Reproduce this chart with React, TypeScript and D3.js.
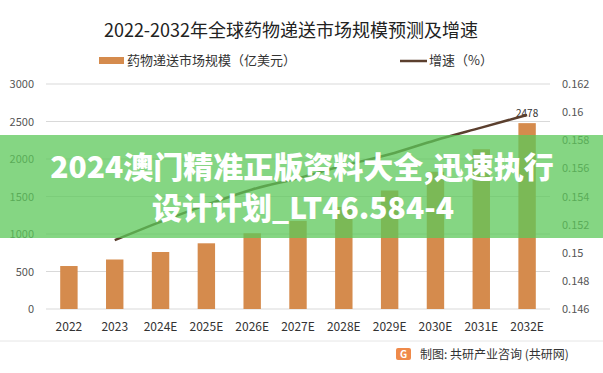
import React, { useEffect, useRef } from 'react';
import * as d3 from 'd3';

const years = ['2022', '2023', '2024E', '2025E', '2026E', '2027E', '2028E', '2029E', '2030E', '2031E', '2032E'];
const marketSize = [573, 660, 760, 876, 1010, 1175, 1360, 1580, 1830, 2130, 2478];
const growthYears = years.slice(1);
const growth = [0.1509, 0.1522, 0.1534, 0.1545, 0.1553, 0.1562, 0.157, 0.158, 0.1589, 0.1598];
const leftTicks = [0, 500, 1000, 1500, 2000, 2500, 3000];
const rightTicks = [0.146, 0.148, 0.15, 0.152, 0.154, 0.156, 0.158, 0.16, 0.162];

const W = 603;
const H = 373;
const FONT = '"Noto Sans CJK SC", "Noto Sans", sans-serif';

function App() {
  const svgRef = useRef<SVGSVGElement>(null);

  useEffect(() => {
    if (!svgRef.current) return;
    const svg = d3.select(svgRef.current);
    svg.selectAll('*').remove();

    const x = d3.scaleBand().domain(years).range([46, 550]).paddingInner(0.62).paddingOuter(0.31);
    const y = d3.scaleLinear().domain([0, 3000]).range([309, 84]);
    const y2 = d3.scaleLinear().domain([0.146, 0.162]).range([309, 84]);

    svg.append('rect').attr('width', W).attr('height', H).attr('fill', '#fff');

    // title
    svg.append('text')
      .attr('x', 291).attr('y', 37)
      .attr('text-anchor', 'middle')
      .style('font', `18px ${FONT}`)
      .attr('fill', '#222')
      .text('2022-2032年全球药物递送市场规模预测及增速');

    // legend
    svg.append('rect').attr('x', 99).attr('y', 57).attr('width', 25).attr('height', 7).attr('fill', '#d58b4d');
    svg.append('text').attr('x', 127).attr('y', 65).style('font', `13px ${FONT}`).attr('fill', '#333')
      .text('药物递送市场规模（亿美元）');
    svg.append('line').attr('x1', 400).attr('x2', 427).attr('y1', 61).attr('y2', 61)
      .attr('stroke', '#5b3f2e').attr('stroke-width', 2.5);
    svg.append('text').attr('x', 429).attr('y', 65).style('font', `13px ${FONT}`).attr('fill', '#333')
      .text('增速（%）');

    // grid
    svg.append('g').selectAll('line').data(leftTicks).join('line')
      .attr('x1', 46).attr('x2', 550)
      .attr('y1', d => y(d)).attr('y2', d => y(d))
      .attr('stroke', '#d9d9d9').attr('stroke-width', 1);

    // left axis labels
    svg.append('g').selectAll('text').data(leftTicks).join('text')
      .attr('x', 34).attr('y', d => y(d) + 4)
      .attr('text-anchor', 'end')
      .style('font', `11px ${FONT}`).attr('fill', '#555')
      .text(d => String(d));

    // right axis labels
    svg.append('g').selectAll('text').data(rightTicks).join('text')
      .attr('x', 562).attr('y', d => y2(d) + 4)
      .style('font', `11px ${FONT}`).attr('fill', '#555')
      .text(d => String(d));

    // bars
    svg.append('g').selectAll('rect').data(marketSize).join('rect')
      .attr('x', (_, i) => x(years[i])!)
      .attr('width', x.bandwidth())
      .attr('y', d => y(d))
      .attr('height', d => y(0) - y(d))
      .attr('fill', '#d58b4d');

    // last bar label
    svg.append('text')
      .attr('x', x(years[10])! + x.bandwidth() / 2)
      .attr('y', y(marketSize[10]) - 6)
      .attr('text-anchor', 'middle')
      .style('font', `10px ${FONT}`).attr('fill', '#333')
      .text(String(marketSize[10]));

    // growth line
    const line = d3.line<number>()
      .x((_, i) => x(growthYears[i])! + x.bandwidth() / 2)
      .y(d => y2(d))
      .curve(d3.curveMonotoneX);
    svg.append('path').datum(growth)
      .attr('d', line)
      .attr('fill', 'none')
      .attr('stroke', '#5b3f2e')
      .attr('stroke-width', 2.5);

    // x labels
    svg.append('g').selectAll('text').data(years).join('text')
      .attr('x', d => x(d)! + x.bandwidth() / 2)
      .attr('y', 331)
      .attr('text-anchor', 'middle')
      .style('font', `12px ${FONT}`).attr('fill', '#333')
      .text(d => d);

    // footer
    svg.append('line').attr('x1', 0).attr('x2', 603).attr('y1', 341).attr('y2', 341)
      .attr('stroke', '#e6e6e6');
    svg.append('rect').attr('x', 396).attr('y', 348).attr('width', 15).attr('height', 12).attr('rx', 2)
      .attr('fill', '#ef8a4a');
    svg.append('text').attr('x', 400).attr('y', 358).style('font', `bold 10px ${FONT}`).attr('fill', '#fff').text('G');
    svg.append('text').attr('x', 420).attr('y', 359).style('font', `12px ${FONT}`).attr('fill', '#333')
      .text('制图: 共研产业咨询 (共研网)');

    // banner overlay
    svg.append('rect').attr('x', 0).attr('y', 135).attr('width', W).attr('height', 103)
      .attr('fill', '#5cc85a').attr('opacity', 0.75);
    svg.append('text').attr('x', 302).attr('y', 178).attr('text-anchor', 'middle')
      .style('font', `900 30px ${FONT}`).attr('fill', '#fff')
      .text('2024澳门精准正版资料大全,迅速执行');
    svg.append('text').attr('x', 303).attr('y', 219).attr('text-anchor', 'middle')
      .style('font', `900 30px ${FONT}`).attr('fill', '#fff')
      .text('设计计划_LT46.584-4');

    return () => { svg.selectAll('*').remove(); };
  }, []);

  return (
    <svg ref={svgRef} width={W} height={H} style={{ position: 'absolute', left: 0, top: 0 }} />
  );
}

export default App;
